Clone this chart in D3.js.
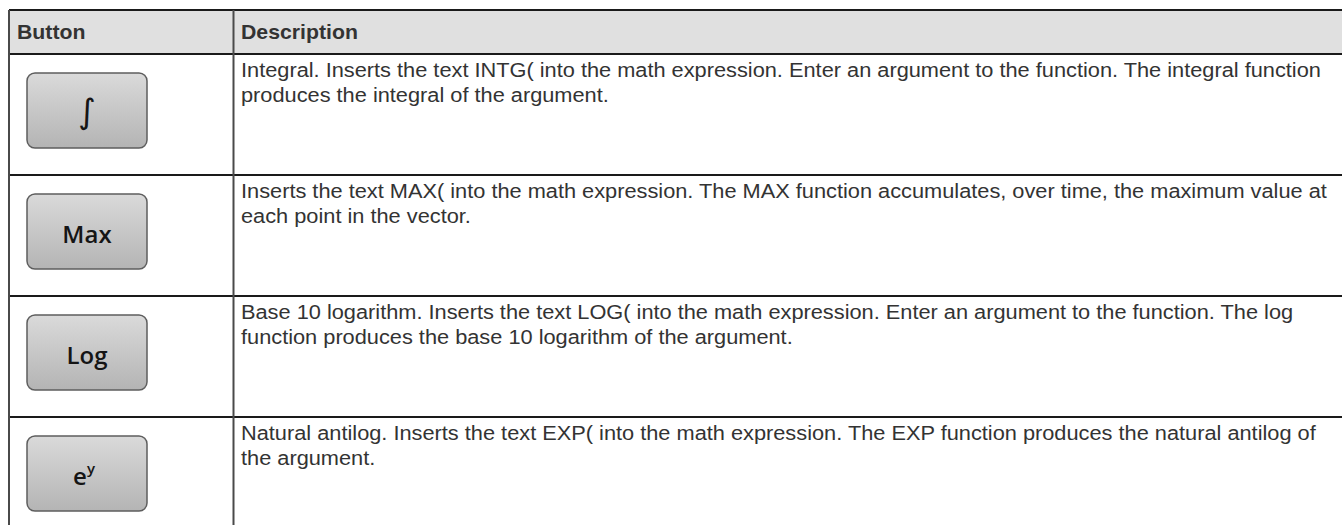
<!DOCTYPE html>
<html><head><meta charset="utf-8">
<script src="https://cdn.jsdelivr.net/npm/d3@7"></script>
<style>html,body{margin:0;padding:0;background:#fff;}svg{display:block;}</style>
</head><body>
<script>
const headers = ["Button", "Description"];
const buttonLabels = ["∫", "Max", "Log", "e"];
const buttonSup = ["", "", "", "y"];
const descriptions = [
  ["Integral. Inserts the text INTG( into the math expression. Enter an argument to the function. The integral function",
   "produces the integral of the argument."],
  ["Inserts the text MAX( into the math expression. The MAX function accumulates, over time, the maximum value at",
   "each point in the vector."],
  ["Base 10 logarithm. Inserts the text LOG( into the math expression. Enter an argument to the function. The log",
   "function produces the base 10 logarithm of the argument."],
  ["Natural antilog. Inserts the text EXP( into the math expression. The EXP function produces the natural antilog of",
   "the argument."]
];

(function(){
const W = 1342, H = 525;
const svg = d3.select("body").append("svg").attr("width", W).attr("height", H);
const defs = svg.append("defs");
const grad = defs.append("linearGradient").attr("id","btn").attr("x1",0).attr("y1",0).attr("x2",0).attr("y2",1);
grad.append("stop").attr("offset","0%").attr("stop-color","#dadada");
grad.append("stop").attr("offset","100%").attr("stop-color","#b4b4b4");

const leftX = 9, topY = 10, headerBottom = 54, divX = 233.5;
const y = d3.scaleLinear().domain([0, 1]).range([headerBottom, headerBottom + 121]);

svg.append("rect").attr("x", leftX).attr("y", topY).attr("width", W - leftX).attr("height", headerBottom - topY).attr("fill", "#e0e0e0");

const hG = svg.append("g");
hG.selectAll("text.h").data(headers).join("text").attr("class","h")
  .attr("x", 0).attr("y", 0)
  .attr("font-family", "'Liberation Sans', Arial, sans-serif").attr("font-weight", "bold")
  .attr("font-size", 21).attr("fill", "#333").text(d => d);
const hs = 117 / hG.selectAll("text.h").nodes()[1].getComputedTextLength();
hG.attr("transform", `translate(17,39) scale(${hs},1)`);
hG.selectAll("text.h").attr("x", (d,i) => i === 0 ? 0 : 224 / hs);

const lineYs = [topY, headerBottom].concat(d3.range(1, descriptions.length).map(i => y(i)));
svg.selectAll("line.hl").data(lineYs).join("line").attr("class","hl")
  .attr("x1", leftX).attr("x2", W).attr("y1", d => d).attr("y2", d => d)
  .attr("stroke", "#1a1a1a").attr("stroke-width", 2);

svg.selectAll("line.vl").data([leftX, divX]).join("line").attr("class","vl")
  .attr("x1", d => d).attr("x2", d => d).attr("y1", topY).attr("y2", H)
  .attr("stroke", "#4a4a4a").attr("stroke-width", 2);

const btn = svg.selectAll("g.btn").data(buttonLabels).join("g").attr("class","btn")
  .attr("transform", (d,i) => `translate(27,${y(i) + 19})`);
btn.append("rect").attr("width", 120).attr("height", 75).attr("rx", 8)
  .attr("fill", "url(#btn)").attr("stroke", "#5e5e5e").attr("stroke-width", 1.5);
btn.append("text").attr("x", (d,i) => i === 3 ? 57 : 60).attr("y", (d,i) => i === 0 ? 50 : 49)
  .attr("text-anchor", "middle")
  .attr("font-family", (d,i) => i === 0 ? "'DejaVu Sans', sans-serif" : "'Open Sans', 'Noto Sans', sans-serif")
  .attr("font-weight", (d,i) => i === 0 ? 400 : 600)
  .attr("font-size", (d,i) => i === 0 ? 34 : 24)
  .attr("fill", "#151515")
  .each(function(d,i){
    const t = d3.select(this);
    t.append("tspan").text(d);
    if (buttonSup[i]) t.append("tspan").attr("font-size", 15).attr("dy", -11).text(buttonSup[i]);
  });

const descG = svg.append("g");
const rows = descG.selectAll("g.row").data(descriptions).join("g").attr("class","row")
  .attr("transform", (d,i) => `translate(0,${y(i) + 23})`);
rows.selectAll("text").data(d => d).join("text")
  .attr("font-family", "'Liberation Sans', Arial, sans-serif").attr("font-size", 21)
  .attr("fill", "#333")
  .attr("y", (d,j) => j*25)
  .attr("x", 0).text(d => d);

const first = rows.select("text").node();
const sx = 1081 / first.getComputedTextLength();
descG.attr("transform", `translate(241,0) scale(${sx},1)`);
})();
</script>
</body></html>
